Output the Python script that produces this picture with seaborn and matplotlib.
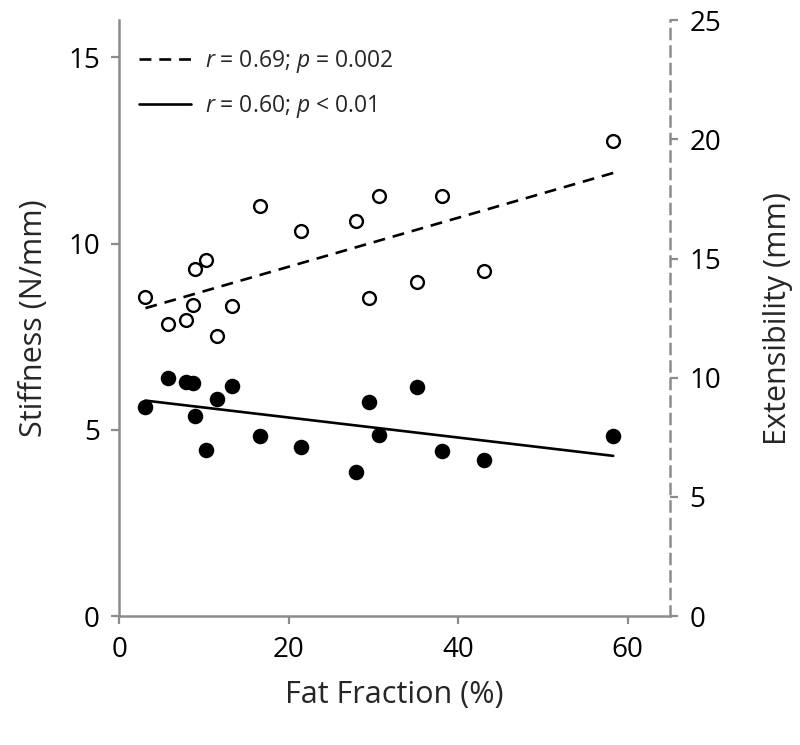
import matplotlib
matplotlib.use("Agg")
import matplotlib.pyplot as plt
import pandas as pd
import seaborn as sns

# values
fat_fraction = [3.1, 5.8, 7.9, 8.7, 8.9, 10.2, 11.6, 13.3, 16.6, 21.5,
                27.9, 29.5, 30.7, 35.1, 38.1, 43.1, 58.3]
stiffness = [5.62, 6.40, 6.29, 6.25, 5.38, 4.46, 5.83, 6.17, 4.83, 4.54,
             3.86, 5.74, 4.85, 6.14, 4.44, 4.19, 4.83]
extensibility = [13.40, 12.26, 12.40, 13.07, 14.54, 14.92, 11.76, 13.00, 17.22, 16.14,
                 16.56, 13.34, 17.61, 14.02, 17.61, 14.46, 19.94]

ext_label = r"$\it{r}$ = 0.69; $\it{p}$ = 0.002"
stiff_label = r"$\it{r}$ = 0.60; $\it{p}$ < 0.01"

x_ticks = [0, 20, 40, 60]
stiff_ticks = [0, 5, 10, 15]
ext_ticks = [0, 5, 10, 15, 20, 25]

df = pd.DataFrame({"Fat Fraction": fat_fraction,
                   "Stiffness": stiffness,
                   "Extensibility": extensibility})

sns.set_style("ticks")
plt.rcParams["font.family"] = ["Open Sans", "DejaVu Sans"]
plt.rcParams["mathtext.fontset"] = "custom"
plt.rcParams["mathtext.it"] = "Open Sans:italic"
plt.rcParams["mathtext.rm"] = "Open Sans"

axis_grey = "#8c8c8c"

fig = plt.figure(figsize=(8, 7.45), dpi=100)
ax = fig.add_axes([0.149, 0.173, 0.6885, 0.80])
ax2 = ax.twinx()

# stiffness - filled circles, solid fit (left axis)
sns.regplot(data=df, x="Fat Fraction", y="Stiffness", ax=ax, ci=None,
            scatter_kws=dict(s=125, color="black", edgecolor="black",
                             linewidths=0, alpha=1),
            line_kws=dict(color="black", lw=1.9, label=stiff_label))

# extensibility - open circles, dashed fit (right axis)
sns.regplot(data=df, x="Fat Fraction", y="Extensibility", ax=ax2, ci=None,
            scatter_kws=dict(s=85, facecolor="white", edgecolor="black",
                             linewidths=1.7, alpha=1),
            line_kws=dict(color="black", lw=1.9, dashes=(4.5, 3), label=ext_label))

ax.set_xlim(0, 65)
ax.set_ylim(0, 16)
ax2.set_ylim(0, 25)
ax.set_xticks(x_ticks)
ax.set_yticks(stiff_ticks)
ax2.set_yticks(ext_ticks)

ax.set_xlabel("Fat Fraction (%)", fontsize=22, labelpad=12)
ax.set_ylabel("Stiffness (N/mm)", fontsize=22, labelpad=14)
ax2.set_ylabel("Extensibility (mm)", fontsize=22, labelpad=30)

for a in (ax, ax2):
    a.tick_params(labelsize=20, colors=axis_grey, labelcolor="black",
                  length=6, width=1.6, pad=8)
    a.spines["top"].set_visible(False)
    for s in a.spines.values():
        s.set_color(axis_grey)
        s.set_linewidth(1.8)

ax.spines["right"].set_visible(False)
ax2.spines["left"].set_visible(False)
ax2.spines["bottom"].set_visible(False)
ax2.spines["right"].set_linestyle((0, (4, 3)))

h2, l2 = ax2.get_legend_handles_labels()
h1, l1 = ax.get_legend_handles_labels()
ax.legend(h2 + h1, l2 + l1, loc="upper left", bbox_to_anchor=(-0.002, 0.987),
          frameon=False, fontsize=16.5, handlelength=2.3, labelspacing=0.75,
          handletextpad=0.6)

fig.savefig("out.png", dpi=100)
